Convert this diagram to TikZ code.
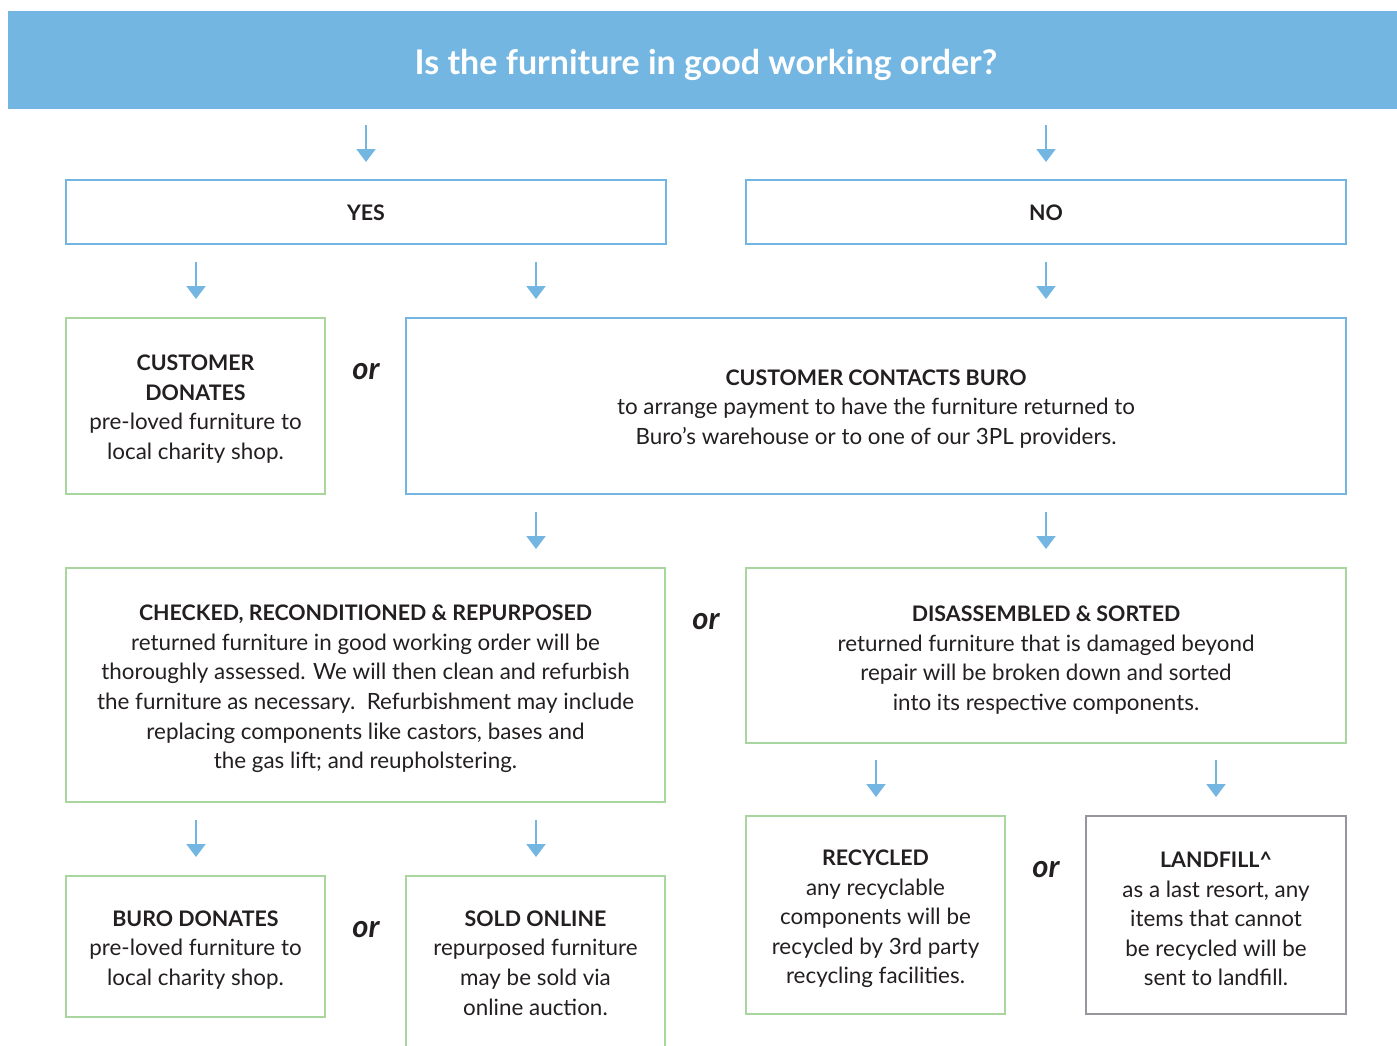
\documentclass[tikz,border=0pt]{standalone}
\usepackage{fontspec}
\setmainfont{Lato}
\usetikzlibrary{arrows.meta}
\definecolor{hdr}{RGB}{116,182,226}
\definecolor{bluebd}{RGB}{116,182,226}
\definecolor{greenbd}{RGB}{168,214,158}
\definecolor{graybd}{RGB}{150,150,156}
\definecolor{txt}{RGB}{35,31,32}
\newcommand{\hd}[1]{{\fontsize{10.7}{14.8}\selectfont\bfseries #1}}
\tikzset{
  box/.style={draw, line width=1pt, inner sep=0pt},
  bluebox/.style={box, draw=bluebd},
  greenbox/.style={box, draw=greenbd},
  graybox/.style={box, draw=graybd},
  boxtext/.style={align=center, text=txt, inner sep=0pt,
    font=\fontsize{11.2}{14.8}\selectfont},
  ortext/.style={text=txt, font=\fontsize{15.5}{17}\selectfont\bfseries\itshape},
  arr/.style={draw=bluebd, line width=1pt, -{Triangle[width=9.5pt,length=6.5pt]}},
}
\begin{document}
\begin{tikzpicture}[x=0.5pt,y=-0.5pt]
\useasboundingbox (0,0) rectangle (1397,1045);
\clip (0,0) rectangle (1397,1045);
% header
\node[fill=hdr, minimum width=694.5pt, minimum height=49pt, inner sep=0pt] (hdr) at (702.5,60) {};
\node[text=white, font=\fontsize{17}{20}\selectfont\bfseries, inner sep=0pt] (title) at (706,65) {Is the furniture in good working order?};
% row 1
\node[bluebox, minimum width=300pt, minimum height=32pt] (yes) at (366,212) {};
\node[boxtext] (yest) at (366,213) {\hd{YES}};
\node[bluebox, minimum width=300pt, minimum height=32pt] (no) at (1046,212) {};
\node[boxtext] (not) at (1046,213) {\hd{NO}};
% row 2
\node[greenbox, minimum width=129.5pt, minimum height=88pt] (cd) at (195.5,406) {};
\node[boxtext] (cdt) at (195.5,409)
  {\hd{CUSTOMER}\\\hd{DONATES}\\pre-loved furniture to\\local charity shop.};
\node[ortext] (or1) at (366,372) {or};
\node[bluebox, minimum width=470pt, minimum height=88pt] (ccb) at (876,406) {};
\node[boxtext] (ccbt) at (876,409)
  {\hd{CUSTOMER CONTACTS BURO}\\to arrange payment to have the furniture returned to\\Buro's warehouse or to one of our 3PL providers.};
% row 3
\node[greenbox, minimum width=299.5pt, minimum height=117pt] (crr) at (365.5,685) {};
\node[boxtext] (crrt) at (365.5,689)
  {\hd{CHECKED, RECONDITIONED \& REPURPOSED}\\returned furniture in good working order will be\\thoroughly assessed. We will then clean and refurbish\\the furniture as necessary.\ \ Refurbishment may include\\replacing components like castors, bases and\\the gas lift; and reupholstering.};
\node[ortext] (or2) at (706,622) {or};
\node[greenbox, minimum width=300pt, minimum height=87.5pt] (ds) at (1046,655.5) {};
\node[boxtext] (dst) at (1046,660)
  {\hd{DISASSEMBLED \& SORTED}\\returned furniture that is damaged beyond\\repair will be broken down and sorted\\into its respective components.};
% row 4 left
\node[greenbox, minimum width=129.5pt, minimum height=70.5pt] (bd) at (195.5,946.5) {};
\node[boxtext] (bdt) at (195.5,950)
  {\hd{BURO DONATES}\\pre-loved furniture to\\local charity shop.};
\node[ortext] (or3) at (366,930) {or};
\node[greenbox, minimum width=129.5pt, minimum height=90pt] (so) at (535.5,966) {};
\node[boxtext] (sot) at (535.5,963)
  {\hd{SOLD ONLINE}\\repurposed furniture\\may be sold via\\online auction.};
% row 4 right
\node[greenbox, minimum width=129.5pt, minimum height=99pt] (rec) at (875.5,915) {};
\node[boxtext] (rect) at (875.5,919)
  {\hd{RECYCLED}\\any recyclable\\components will be\\recycled by 3rd party\\recycling facilities.};
\node[ortext] (or4) at (1046,870) {or};
\node[graybox, minimum width=130pt, minimum height=99pt] (lf) at (1216,915) {};
\node[boxtext] (lft) at (1216,919)
  {\hd{LANDFILL\^{}}\\as a last resort, any\\items that cannot\\be recycled will be\\sent to landfill.};
% arrow coordinates
\coordinate (a1s) at (366,125); \coordinate (a1e) at (366,162);
\coordinate (a2s) at (1046,125); \coordinate (a2e) at (1046,162);
\coordinate (a3s) at (196,262); \coordinate (a3e) at (196,299);
\coordinate (a4s) at (536,262); \coordinate (a4e) at (536,299);
\coordinate (a5s) at (1046,262); \coordinate (a5e) at (1046,299);
\coordinate (a6s) at (536,512); \coordinate (a6e) at (536,549);
\coordinate (a7s) at (1046,512); \coordinate (a7e) at (1046,549);
\coordinate (a8s) at (196,820); \coordinate (a8e) at (196,857);
\coordinate (a9s) at (536,820); \coordinate (a9e) at (536,857);
\coordinate (a10s) at (876,760); \coordinate (a10e) at (876,797);
\coordinate (a11s) at (1216,760); \coordinate (a11e) at (1216,797);
\foreach \i in {1,...,11} \draw[arr] (a\i s) -- (a\i e);
\end{tikzpicture}
\end{document}
